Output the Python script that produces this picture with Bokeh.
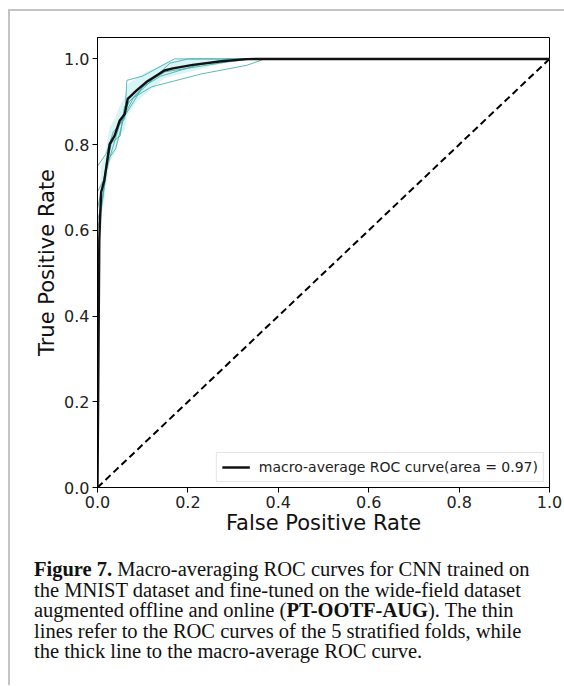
from bokeh.plotting import figure
from bokeh.models import Range1d, FixedTicker, NumeralTickFormatter, Legend, LegendItem, Div
from bokeh.layouts import column
from bokeh.embed import file_html
from bokeh.resources import INLINE

# ---- data ----
mean_fpr = [0.0, 0.004, 0.008, 0.015, 0.027, 0.038, 0.049, 0.060, 0.067, 0.086,
            0.108, 0.130, 0.148, 0.167, 0.211, 0.270, 0.329, 0.351, 1.0]
mean_tpr = [0.0, 0.579, 0.689, 0.716, 0.801, 0.821, 0.856, 0.871, 0.907, 0.926,
            0.946, 0.961, 0.973, 0.978, 0.986, 0.994, 0.9995, 1.0, 1.0]
tpr_upper = [0.0, 0.66, 0.75, 0.77, 0.84, 0.86, 0.89, 0.91, 0.94, 0.955,
             0.97, 0.98, 0.99, 0.995, 1.0, 1.0, 1.0, 1.0, 1.0]
tpr_lower = [0.0, 0.52, 0.63, 0.67, 0.76, 0.78, 0.82, 0.835, 0.87, 0.90,
             0.92, 0.94, 0.955, 0.96, 0.972, 0.988, 0.998, 1.0, 1.0]

fold1_fpr = [0.0, 0.0, 0.02, 0.035, 0.06, 0.065, 0.10, 0.17, 1.0]
fold1_tpr = [0.0, 0.75, 0.78, 0.83, 0.86, 0.95, 0.96, 1.0, 1.0]
fold2_fpr = [0.0, 0.0, 0.015, 0.025, 0.05, 0.06, 0.09, 0.12, 0.16, 0.20, 1.0]
fold2_tpr = [0.0, 0.69, 0.72, 0.80, 0.82, 0.89, 0.92, 0.95, 0.99, 1.0, 1.0]
fold3_fpr = [0.0, 0.0, 0.012, 0.02, 0.04, 0.06, 0.08, 0.12, 0.23, 0.33, 0.37, 1.0]
fold3_tpr = [0.0, 0.62, 0.68, 0.76, 0.79, 0.87, 0.91, 0.935, 0.965, 0.985, 1.0, 1.0]
fold4_fpr = [0.0, 0.0, 0.01, 0.03, 0.045, 0.07, 0.11, 0.15, 0.30, 0.35, 1.0]
fold4_tpr = [0.0, 0.65, 0.70, 0.80, 0.84, 0.90, 0.945, 0.97, 0.995, 1.0, 1.0]
fold5_fpr = [0.0, 0.0, 0.01, 0.02, 0.03, 0.05, 0.08, 0.10, 0.14, 0.22, 0.29, 1.0]
fold5_tpr = [0.0, 0.60, 0.66, 0.74, 0.78, 0.85, 0.90, 0.935, 0.96, 0.985, 1.0, 1.0]

chance_x = [0.0, 1.0]
chance_y = [0.0, 1.0]

tick_values = [0.0, 0.2, 0.4, 0.6, 0.8, 1.0]
legend_label = "macro-average ROC curve(area = 0.97)"

# ---- figure ----
p = figure(width=553, height=529, output_backend="svg", toolbar_location=None,
           x_range=Range1d(0, 1), y_range=Range1d(0, 1.05),
           min_border_left=87, min_border_right=14, min_border_top=26, min_border_bottom=53)
p.grid.visible = False
p.outline_line_color = "black"
p.outline_line_alpha = 1
p.outline_line_width = 1
p.background_fill_color = "white"
p.border_fill_color = "white"

p.varea(x=mean_fpr, y1=tpr_lower, y2=tpr_upper, fill_color="#3cc8c8", fill_alpha=0.2)

fold_color = "#3fadad"
for fx, fy in [(fold1_fpr, fold1_tpr), (fold2_fpr, fold2_tpr), (fold3_fpr, fold3_tpr),
               (fold4_fpr, fold4_tpr), (fold5_fpr, fold5_tpr)]:
    p.line(fx, fy, line_color=fold_color, line_width=1, line_alpha=0.85)

p.line(chance_x, chance_y, line_color="black", line_width=2, line_dash="7 4")
mean_r = p.line(mean_fpr, mean_tpr, line_color="#111111", line_width=2.4)

legend = Legend(items=[LegendItem(label=legend_label, renderers=[mean_r])],
                location="bottom_right")
legend.label_text_font = "DejaVu Sans"
legend.label_text_font_size = "14px"
legend.label_text_color = "#222222"
legend.border_line_color = "#cccccc"
legend.border_line_width = 1
legend.glyph_width = 28
legend.label_standoff = 9
legend.padding = 5
legend.margin = 5
legend.label_height = 18
legend.glyph_height = 18
p.add_layout(legend)

for ax in (p.xaxis[0], p.yaxis[0]):
    ax.ticker = FixedTicker(ticks=tick_values)
    ax.formatter = NumeralTickFormatter(format="0.0")
    ax.major_label_text_font = "DejaVu Sans"
    ax.major_label_text_font_size = "16px"
    ax.major_label_text_color = "#222222"
    ax.axis_label_text_font = "DejaVu Sans"
    ax.axis_label_text_font_size = "21px"
    ax.axis_label_text_font_style = "normal"
    ax.axis_label_text_color = "#111111"
    ax.major_tick_in = 0
    ax.major_tick_out = 5
    ax.minor_tick_in = 0
    ax.minor_tick_out = 0
    ax.axis_line_color = "black"
    ax.major_tick_line_color = "black"
    ax.major_label_standoff = 3

p.xaxis.axis_label = "False Positive Rate"
p.yaxis.axis_label = "True Positive Rate"
p.xaxis.axis_label_standoff = 0
p.yaxis.axis_label_standoff = 2

caption = Div(
    text=(
        "<div style=\"font-family:'Liberation Serif','Times New Roman',serif;font-size:20.5px;"
        "line-height:20.6px;color:#111;white-space:nowrap;padding-left:19px;padding-top:14px;\">"
        "<b>Figure 7.</b> Macro-averaging ROC curves for CNN trained on<br>"
        "the MNIST dataset and fine-tuned on the wide-field dataset<br>"
        "augmented offline and online (<b>PT-OOTF-AUG</b>). The thin<br>"
        "lines refer to the ROC curves of the 5 stratified folds, while<br>"
        "the thick line to the macro-average ROC curve.</div>"
    ),
    width=553, height=135,
)

layout = column(p, caption, styles={"border-top": "2px solid #c4c4c4",
                                    "border-left": "2px solid #c4c4c4",
                                    "margin-left": "8px", "margin-top": "9px"})

open("out.html", "w").write(file_html(layout, INLINE))
